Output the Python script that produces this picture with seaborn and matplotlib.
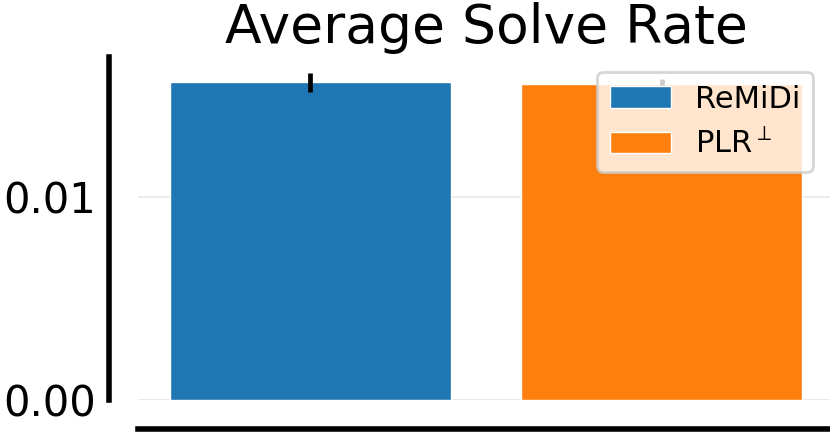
import matplotlib
matplotlib.use("Agg")
import matplotlib.pyplot as plt
import seaborn as sns
import pandas as pd
from matplotlib.patches import Patch

methods = ["ReMiDi", "PLR$^{\\perp}$"]
solve_rate = [0.01565, 0.01557]
solve_err = [0.00045, 0.00027]
colors = ["#1f77b4", "#ff7f0e"]

sns.set_theme(style="whitegrid")
plt.rcParams['font.family'] = ['DejaVu Sans']
plt.rcParams['text.color'] = 'black'
plt.rcParams['ytick.color'] = 'black'
plt.rcParams['axes.titlecolor'] = 'black'

fig = plt.figure(figsize=(8.3, 4.32), dpi=100)
ax = fig.add_axes([138/830, 1-400/432, (834-138)/830, (400-57)/432])

df = pd.DataFrame({"method": methods, "rate": solve_rate})
sns.barplot(data=df, x="method", y="rate", hue="method", palette=colors,
            errorbar=None, ax=ax, legend=False, saturation=1, width=0.8)
ax.errorbar(x=[0, 1], y=solve_rate, yerr=solve_err, fmt="none",
            ecolor="black", elinewidth=3.4, capsize=0, zorder=3)

ax.set_ylim(0, 0.0169)
ax.set_yticks([0.0, 0.01])
ax.set_yticklabels(["0.00", "0.01"])
ax.set_xticks([])
ax.set_xlabel("")
ax.set_ylabel("")
ax.set_title("Average Solve Rate", fontsize=38.5, pad=10)
ax.tick_params(axis="y", labelsize=30, pad=9.5, length=0, labelcolor="black")
ax.grid(axis="x", visible=False)
ax.grid(axis="y", color="#e8e8e8", linewidth=1.2)
ax.set_axisbelow(True)

sns.despine(ax=ax, offset=21)
for s in ["left", "bottom"]:
    ax.spines[s].set_color("black")
    ax.spines[s].set_linewidth(4)

handles = [Patch(facecolor=c, label=m) for c, m in zip(colors, methods)]
leg = ax.legend(handles=handles, loc="upper right", fontsize=22, framealpha=0.8,
                bbox_to_anchor=(1 - 6/696, 1.0))
leg.get_frame().set_linewidth(2)
leg.get_frame().set_edgecolor("#cccccc")

fig.savefig("out.png", dpi=100)
